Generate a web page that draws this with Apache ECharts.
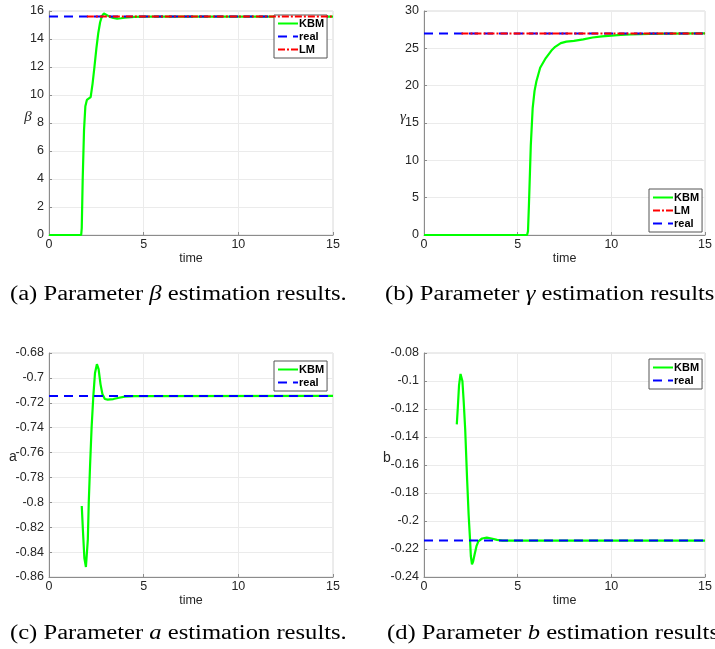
<!DOCTYPE html>
<html>
<head>
<meta charset="utf-8">
<script src="https://cdn.jsdelivr.net/npm/echarts@6/dist/echarts.min.js"></script>
<style>
  html, body { margin: 0; padding: 0; background: #fff; }
  #chart { width: 715px; height: 649px; }
</style>
</head>
<body>
<div id="chart"></div>
<script>
// time ticks shared by all four panels
const timeTicks = [0, 5, 10, 15];

// (a) beta
const betaTime = [0, 1.7, 1.73, 1.78, 1.85, 1.92, 2.0, 2.1, 2.2, 2.3, 2.4, 2.5, 2.6, 2.7, 2.8, 2.9, 3.0, 3.2, 3.4, 3.6, 3.8, 4.0, 4.5, 5, 15];
const betaKBM = [0, 0, 0.5, 4, 7.5, 9.2, 9.65, 9.7, 9.85, 10.8, 12.0, 13.3, 14.4, 15.2, 15.65, 15.82, 15.75, 15.6, 15.5, 15.45, 15.48, 15.52, 15.58, 15.6, 15.6];
const betaReal = 15.6;
const betaLM = 15.6;

// (b) gamma
const gammaTime = [0, 5.5, 5.55, 5.6, 5.7, 5.8, 5.9, 6.0, 6.2, 6.5, 6.8, 7.0, 7.3, 7.6, 8.0, 8.5, 9.0, 9.5, 10, 10.5, 11, 12, 13, 15];
const gammaKBM = [0, 0, 0.5, 4, 12, 17, 19.3, 20.6, 22.4, 23.7, 24.7, 25.2, 25.7, 25.9, 26.0, 26.2, 26.45, 26.6, 26.7, 26.8, 26.85, 26.93, 26.97, 27];
const gammaReal = 27;
const gammaLM = 27;

// (c) a
const aTime = [1.73, 1.8, 1.87, 1.95, 2.05, 2.1, 2.17, 2.25, 2.34, 2.43, 2.53, 2.62, 2.72, 2.82, 2.95, 3.1, 3.4, 3.7, 4.0, 4.5, 15];
const aKBM = [-0.803, -0.825, -0.845, -0.852, -0.83, -0.80, -0.77, -0.74, -0.715, -0.696, -0.689, -0.693, -0.705, -0.713, -0.717, -0.7175, -0.717, -0.716, -0.715, -0.7147, -0.7145];
const aReal = -0.7145;

// (d) b
const bTime = [1.75, 1.8, 1.87, 1.95, 2.0, 2.05, 2.12, 2.2, 2.3, 2.38, 2.46, 2.5, 2.56, 2.62, 2.7, 2.8, 2.9, 3.1, 3.35, 3.6, 3.9, 4.2, 15];
const bKBM = [-0.131, -0.12, -0.103, -0.095, -0.0945, -0.1, -0.115, -0.135, -0.17, -0.195, -0.214, -0.225, -0.231, -0.229, -0.224, -0.218, -0.2145, -0.2125, -0.2119, -0.2125, -0.2135, -0.214, -0.214];
const bReal = -0.214;

const LM_START = 2;

const zip = (xs, ys) => xs.map((x, i) => [x, ys[i]]);

const chart = echarts.init(document.getElementById('chart'));

const grids = [
  { left: 49, top: 11, width: 284, height: 224 },
  { left: 424, top: 11, width: 285, height: 224 },
  { left: 49, top: 353, width: 284, height: 224 },
  { left: 424, top: 353, width: 285, height: 224 },
];
const yRanges = [
  { min: 0, max: 16, interval: 2 },
  { min: 0, max: 30, interval: 5 },
  { min: -0.86, max: -0.68, interval: 0.02 },
  { min: -0.24, max: -0.08, interval: 0.02 },
];

const tickFont = { fontFamily: 'Liberation Sans', fontSize: 12.5, color: '#262626' };
const axisCol = '#8c8c8c';

function xAxis(i) {
  return {
    type: 'value', gridIndex: i, min: 0, max: 15, interval: 5,
    name: 'time', nameLocation: 'middle', nameGap: 17,
    nameTextStyle: tickFont,
    axisLine: { show: true, lineStyle: { color: axisCol, width: 1 } },
    axisTick: { show: true, inside: true, length: 3, lineStyle: { color: axisCol } },
    axisLabel: Object.assign({ margin: 3, formatter: v => timeTicks.includes(v) ? String(v) : '' }, tickFont),
    splitLine: { show: true, lineStyle: { color: '#ebebeb', width: 1 } },
  };
}
function yAxis(i) {
  return Object.assign({
    type: 'value', gridIndex: i,
    axisLine: { show: true, onZero: false, lineStyle: { color: axisCol, width: 1 } },
    axisTick: { show: true, inside: true, length: 3, lineStyle: { color: axisCol } },
    axisLabel: Object.assign({ margin: 5 }, tickFont),
    splitLine: { show: true, lineStyle: { color: '#ebebeb', width: 1 } },
  }, yRanges[i]);
}

const kbmStyle = { color: '#00ff00', width: 2.2 };
const realStyle = { color: '#0000ff', width: 2, type: [9, 6] };
const lmStyle = { color: '#ff0000', width: 2, type: [7, 2, 2, 2] };

function line(name, i, data, style, z) {
  return {
    name, type: 'line', xAxisIndex: i, yAxisIndex: i, data,
    showSymbol: false, symbol: 'none', animation: false, z,
    lineStyle: style, itemStyle: { color: style.color },
  };
}

const series = [
  line('KBM', 0, zip(betaTime, betaKBM), kbmStyle, 2),
  line('real', 0, [[0, betaReal], [15, betaReal]], realStyle, 3),
  line('LM', 0, [[LM_START, betaLM], [15, betaLM]], lmStyle, 4),
  line('KBM', 1, zip(gammaTime, gammaKBM), kbmStyle, 2),
  line('real', 1, [[0, gammaReal], [15, gammaReal]], realStyle, 3),
  line('LM', 1, [[LM_START, gammaLM], [15, gammaLM]], lmStyle, 4),
  line('KBM', 2, zip(aTime, aKBM), kbmStyle, 2),
  line('real', 2, [[0, aReal], [15, aReal]], realStyle, 3),
  line('KBM', 3, zip(bTime, bKBM), kbmStyle, 2),
  line('real', 3, [[0, bReal], [15, bReal]], realStyle, 3),
];

function legend(left, top, names) {
  return {
    left, top, orient: 'vertical', data: names,
    backgroundColor: '#fff', borderColor: '#555', borderWidth: 1,
    padding: [3, 3, 3, 3], itemGap: 2, itemWidth: 20, itemHeight: 11,
    selectedMode: false,
    itemStyle: { opacity: 0 },
    textStyle: { fontFamily: 'Liberation Sans', fontWeight: 'bold', fontSize: 11, color: '#000', padding: [0, 0, 0, -4] },
  };
}

function caption(x, y, tag, sym) {
  return {
    type: 'text', left: x, top: y, scaleX: 1.23,
    style: {
      text: '{n|(' + tag + ') Parameter }{m|' + sym + '}{n| estimation results.}',
      rich: {
        n: { fontFamily: 'Liberation Serif', fontSize: 20, color: '#111' },
        m: { fontFamily: 'Liberation Serif', fontSize: 20, color: '#111', fontStyle: 'italic' },
      },
    },
  };
}
function yName(x, y, txt, serif) {
  return {
    type: 'text', x, y,
    style: {
      text: txt, fill: '#262626', align: 'center', verticalAlign: 'middle',
      fontFamily: serif ? 'Liberation Serif' : 'Liberation Sans',
      fontStyle: serif ? 'italic' : 'normal', fontSize: serif ? 15 : 14,
    },
  };
}

chart.setOption({
  animation: false,
  grid: grids.map(g => Object.assign({ show: true, borderColor: '#d9d9d9', borderWidth: 1 }, g)),
  xAxis: [0, 1, 2, 3].map(xAxis),
  yAxis: [0, 1, 2, 3].map(yAxis),
  legend: [
    legend(274, 15, ['KBM', 'real', 'LM']),
    legend(649, 189, ['KBM', 'LM', 'real']),
    legend(274, 361, ['KBM', 'real']),
    legend(649, 359, ['KBM', 'real']),
  ],
  series,
  graphic: [
    yName(28, 117, 'β', true),
    yName(403, 117, 'γ', true),
    yName(13, 457, 'a', false),
    yName(387, 458, 'b', false),
    caption(10, 285, 'a', 'β'),
    caption(385, 285, 'b', 'γ'),
    caption(10, 624, 'c', 'a'),
    caption(387, 624, 'd', 'b'),
  ],
});
</script>
</body>
</html>
